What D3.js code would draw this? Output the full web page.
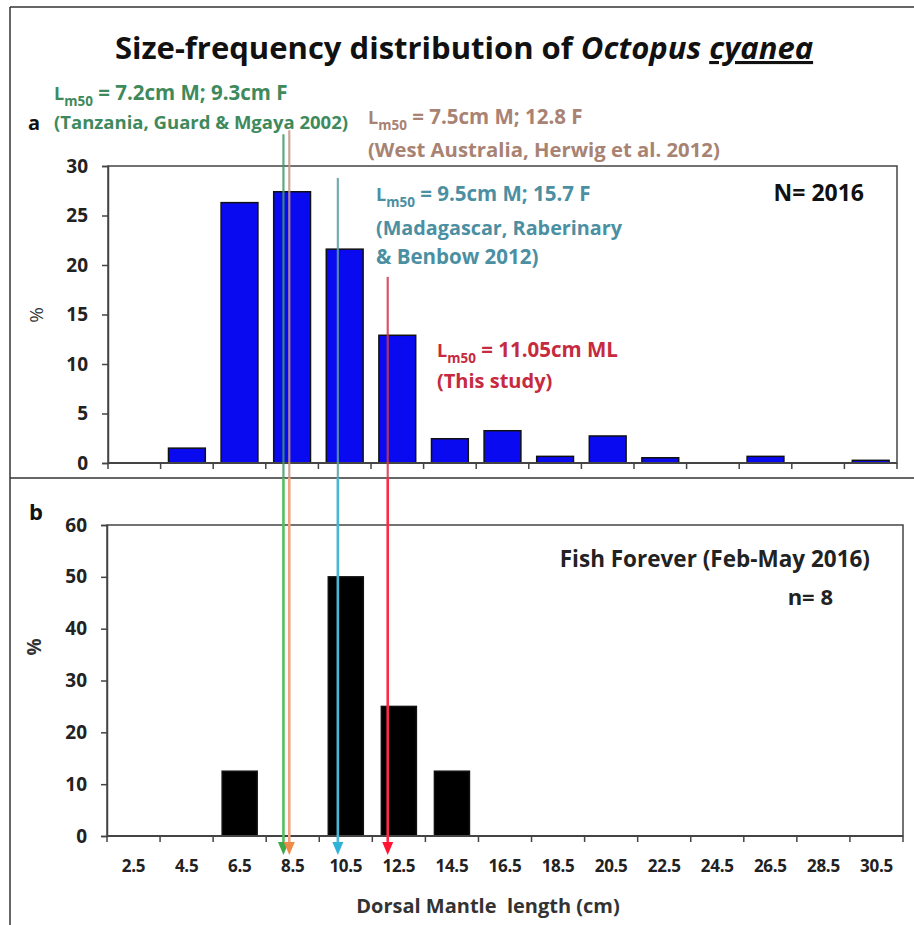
<!DOCTYPE html>
<html><head><meta charset="utf-8">
<script src="https://cdn.jsdelivr.net/npm/d3@7"></script>
<style>body{margin:0;background:#fff}svg{display:block}text{font-family:"Open Sans",Lato,sans-serif}</style>
</head><body><svg id="c" width="914" height="925"></svg>
<script>
// ---------------- data ----------------
const categories = ["2.5","4.5","6.5","8.5","10.5","12.5","14.5","16.5","18.5","20.5","22.5","24.5","26.5","28.5","30.5"];
const pctA = [0,1.5,26.3,27.4,21.6,12.9,2.45,3.26,0.67,2.73,0.53,0,0.67,0,0.27];   // N = 2016
const pctB = [0,0,12.5,0,50,25,12.5,0,0,0,0,0,0,0,0];                            // n = 8
const yTicksA = [0,5,10,15,20,25,30];
const yTicksB = [0,10,20,30,40,50,60];
const arrowCm = [8.15, 8.37, 10.2, 12.08];      // arrow positions on the length axis
const arrowTopPct = [33.2, 33.6, 28.8, 18.8];   // where each line starts (panel a % units)
const noteTexts = [
  [" = 7.2cm M; 9.3cm F", "(Tanzania, Guard & Mgaya 2002)"],
  [" = 7.5cm M; 12.8 F", "(West Australia, Herwig et al. 2012)"],
  [" = 9.5cm M; 15.7 F", "(Madagascar, Raberinary", "& Benbow 2012)"],
  [" = 11.05cm ML", "(This study)"]
];

// ---------------- layout ----------------
const FONT = "'Open Sans', Lato, sans-serif";
const svg = d3.select("#c");
const A = {l:108, r:897, t:166, b:463};
const B = {l:107, r:903, t:525, b:836};
const pA = 0.30, pB = 0.34;
const xA = d3.scaleBand().domain(categories).range([A.l, A.r]).paddingInner(pA).paddingOuter(pA/2);
const xB = d3.scaleBand().domain(categories).range([B.l, B.r]).paddingInner(pB).paddingOuter(pB/2);
const yA = d3.scaleLinear().domain([0,30]).range([A.b, A.t]);
const yB = d3.scaleLinear().domain([0,60]).range([B.b, B.t]);
const xCmB = d3.scaleLinear().domain([1.5, 31.5]).range([B.l, B.r]);

// outer frame + divider
svg.append("line").attr("x1",10).attr("x2",10).attr("y1",7).attr("y2",925).attr("stroke","#333").attr("stroke-width",1.5);
svg.append("line").attr("x1",10).attr("x2",914).attr("y1",7).attr("y2",7).attr("stroke","#333").attr("stroke-width",1.5);
svg.append("line").attr("x1",10).attr("x2",914).attr("y1",478).attr("y2",478).attr("stroke","#333").attr("stroke-width",1.5);

// title
const title = svg.append("text").attr("x",464).attr("y",59).attr("text-anchor","middle")
  .attr("font-size",31).attr("font-weight","bold").attr("fill","#111");
title.append("tspan").text("Size-frequency distribution of ");
title.append("tspan").attr("font-style","italic").text("Octopus ");
title.append("tspan").attr("font-style","italic").attr("text-decoration","underline").text("cyanea");

function panel(P, x, y, vals, yTicks, fill, pad) {
  const g = svg.append("g");
  g.selectAll("rect.bar").data(categories).enter().append("rect")
    .attr("x", c => x(c)).attr("width", x.bandwidth())
    .attr("y", (c,i) => y(vals[i])).attr("height", (c,i) => y(0) - y(vals[i]))
    .attr("fill", fill).attr("stroke", "#111").attr("stroke-width", 1.5)
    .attr("display", (c,i) => vals[i] > 0 ? null : "none");
  g.append("rect").attr("x",P.l).attr("y",P.t).attr("width",P.r-P.l).attr("height",P.b-P.t)
    .attr("fill","none").attr("stroke","#444").attr("stroke-width",1.5);
  const ya = g.append("g").attr("transform",`translate(${P.l},0)`)
    .call(d3.axisLeft(y).tickValues(yTicks).tickSize(6).tickPadding(14).tickFormat(d3.format("d")));
  ya.select(".domain").attr("stroke","#444").attr("stroke-width",1.5);
  ya.selectAll(".tick line").attr("stroke","#444").attr("stroke-width",1.5);
  ya.selectAll(".tick text").attr("font-size",19).attr("font-weight","bold").attr("fill","#222").attr("font-family",FONT);
  const step = x.step();
  const bounds = categories.map(c => x(c) - step*pad/2).concat([x(categories[categories.length-1]) + x.bandwidth() + step*pad/2]);
  g.append("line").attr("x1",P.l).attr("x2",P.r).attr("y1",P.b).attr("y2",P.b).attr("stroke","#444").attr("stroke-width",2);
  g.selectAll("line.xt").data(bounds).enter().append("line")
    .attr("x1",d=>d).attr("x2",d=>d).attr("y1",P.b).attr("y2",P.b+6).attr("stroke","#444").attr("stroke-width",1.5);
  return g;
}
panel(A, xA, yA, pctA, yTicksA, "#0a0af0", pA);
panel(B, xB, yB, pctB, yTicksB, "#000", pB);

// x tick labels on panel b
const xl = svg.append("g").attr("transform",`translate(0,${B.b})`)
  .call(d3.axisBottom(xB).tickSize(0).tickPadding(24));
xl.select(".domain").remove();
xl.selectAll(".tick text").attr("font-size",17).attr("font-weight","bold").attr("fill","#222")
  .attr("font-family",FONT).attr("letter-spacing",-0.3);

// axis titles
svg.append("text").attr("transform","translate(43,315) rotate(-90)").attr("text-anchor","middle")
  .attr("font-size",19).attr("fill","#333").text("%");
svg.append("text").attr("transform","translate(41,647) rotate(-90)").attr("text-anchor","middle")
  .attr("font-size",19).attr("fill","#333").attr("font-weight","bold").text("%");
svg.append("text").attr("x",488).attr("y",913).attr("text-anchor","middle").attr("font-size",20)
  .attr("font-weight","bold").attr("fill","#333").style("white-space","pre").text("Dorsal Mantle  length (cm)");

// panel letters and counts
svg.append("text").attr("x",28).attr("y",130).attr("font-size",20).attr("font-weight","bold").attr("fill","#111").text("a");
svg.append("text").attr("x",29).attr("y",520).attr("font-size",22).attr("font-weight","bold").attr("fill","#111").text("b");
svg.append("text").attr("x",864).attr("y",201).attr("text-anchor","end").attr("font-size",23).attr("font-weight","bold").attr("fill","#111").text("N= 2016");
svg.append("text").attr("x",870).attr("y",567).attr("text-anchor","end").attr("font-size",22.5).attr("font-weight","bold").attr("fill","#222").text("Fish Forever (Feb-May 2016)");
svg.append("text").attr("x",833).attr("y",605).attr("text-anchor","end").attr("font-size",22).attr("font-weight","bold").attr("fill","#222").text("n= 8");

// arrows
const upperCol = ["#3f9a68","#c49888","#5c9fa2","#d0384c"];
const lowerCol = ["#52c060","#f2a482","#4cb6d6","#ff2a48"];
const headCol  = ["#3fa84a","#ee8a48","#2fb2d8","#ff1434"];
const arr = svg.append("g");
arrowCm.forEach((cm,i) => {
  const xp = xCmB(cm);
  arr.append("line").attr("x1",xp).attr("x2",xp).attr("y1",yA(arrowTopPct[i])).attr("y2",478)
    .attr("stroke",upperCol[i]).attr("stroke-width",2.2).attr("stroke-opacity",0.85);
  arr.append("line").attr("x1",xp).attr("x2",xp).attr("y1",478).attr("y2",B.b+8)
    .attr("stroke",lowerCol[i]).attr("stroke-width",2.6);
  arr.append("path").attr("d",`M${xp-5.5},${B.b+6} L${xp+5.5},${B.b+6} L${xp},${B.b+19} Z`).attr("fill",headCol[i]);
});

// annotation texts
const noteLayout = [
  {x:54, ys:[100,129], col:"#3e8a5c", fs:[20.5,18.5]},
  {x:368, ys:[124,157], col:"#a88272", fs:[20.5,20.3]},
  {x:376, ys:[201,235,264], col:"#4b8fa2", fs:[20.5,19.8,20.5]},
  {x:437, ys:[357,388], col:"#c62a40", fs:[20.5,20]}
];
noteTexts.forEach((lines,i) => {
  const L = noteLayout[i];
  lines.forEach((s,j) => {
    const t = svg.append("text").attr("x",L.x).attr("y",L.ys[j]).attr("font-size",L.fs[j])
      .attr("font-weight","bold").attr("fill",L.col);
    if (j === 0) {
      t.append("tspan").attr("font-size",18).text("L");
      t.append("tspan").attr("font-size",13.5).attr("dy",6).text("m50");
      t.append("tspan").attr("dy",-6).text(s);
    } else t.text(s);
  });
});
</script></body></html>
